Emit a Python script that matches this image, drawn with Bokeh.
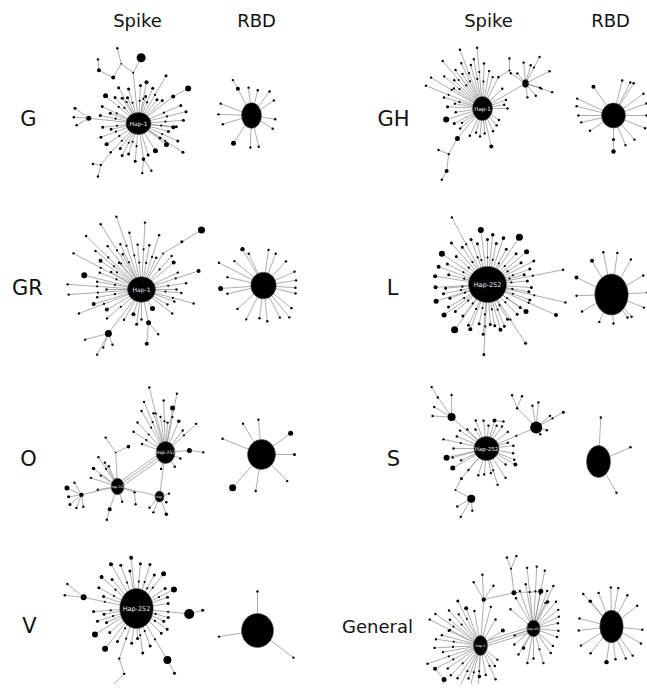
import math
from bokeh.plotting import figure
from bokeh.models import Range1d, ColumnDataSource
from bokeh.embed import file_html
from bokeh.resources import INLINE
from bokeh.core.properties import value

# ---------------- texts ----------------
COLUMN_TITLES = ["Spike", "RBD", "Spike", "RBD"]
COLUMN_X = [137, 256, 488, 610]
COLUMN_Y = [20, 20, 20, 20]
ROW_LABELS = ["G", "GH", "GR", "L", "O", "S", "V", "General"]
ROW_LABEL_X = [28, 393, 27, 392, 28, 393, 29, 377]
ROW_LABEL_Y = [118, 118, 287, 287, 458, 458, 625, 626]
ROW_LABEL_SIZE = ["21px", "21px", "21px", "21px", "21px", "21px", "21px", "18px"]

# ---------------- networks ----------------
# hubs: (x, y, rx, ry, label, label size)
# nodes: (parent, angle deg, length, dot radius, dot along edge); parent -1/-2/-3 = hub 1/2/3
G_SPIKE_HUBS = [(138, 123, 12.5, 11, "Hap-1", 6)]
G_SPIKE_LINKS = []
G_SPIKE_NODES = [
    (-1, 4, 45, 1.5, 1), (-1, -6, 35, 2, 0), (-1, 14, 49, 1.5, 1), (-1, 23, 46, 1.5, 1),
    (-1, 44, 33, 1.5, 0), (-1, 38, 44, 2, 0), (5, 28, 17, 3, 0), (-1, 60, 55, 1.5, 1),
    (-1, 68, 38, 1.5, 1), (-1, 79, 42, 2, 1), (-1, 87, 38, 1.5, 1), (-1, 96, 51, 1, 0),
    (11, 62, 17, 4.5, 0), (11, 143, 15, 0.8, 0), (13, 104, 16, 1.2, 0), (13, 240, 16, 2, 0),
    (15, 153, 16, 2, 0), (16, 95, 11, 1.2, 0), (-1, 106, 36, 1.5, 1), (-1, 119, 41, 1.5, 1),
    (-1, 123, 30, 1.5, 0), (-1, 140, 43, 2.5, 1), (-1, 155, 40, 1.5, 1), (-1, 160, 30, 1.5, 0),
    (-1, 168, 39, 1.5, 1), (-1, 174, 50, 2.5, 0), (25, 144, 17, 1.5, 0), (25, 176, 15, 1.2, 0),
    (25, 210, 14, 1.2, 0), (-1, 186, 36, 1.5, 1), (-1, 200, 40, 1.5, 1), (-1, 213, 38, 2, 1),
    (-1, 226, 40, 1.2, 1), (32, 232, 16, 1.2, 0), (33, 173, 8, 1.2, 0), (33, 256, 12, 1.2, 0),
    (-1, 234, 31, 1.5, 0), (-1, 252, 32, 1.5, 1), (-1, 265, 38, 1.5, 1), (-1, 278, 36, 1.8, 0),
    (39, 265, 14, 1.2, 0), (39, 304, 14, 1.2, 0), (-1, 287, 33, 1.5, 0), (-1, 302, 32, 2.5, 0),
    (-1, 323, 35, 2.5, 0), (-1, 326, 26, 1.5, 0), (-1, 327, 53, 1.5, 1), (-1, 336, 43, 1.5, 1),
    (-1, 345, 31, 1.5, 0), (-1, 132, 35, 1.5, 1), (-1, 113, 28, 1.5, 0), (-1, 52, 30, 1.5, 0),
    (-1, 243, 36, 1.5, 1), (-1, 192, 28, 1.5, 0), (-1, 355, 38, 1.5, 1), (-1, 75, 28, 1.5, 0),
]

G_RBD_HUBS = [(251, 115, 10, 12.8, "", 6)]
G_RBD_NODES = [
    (-1, 117, 30, 2, 0), (0, 120, 10, 1.2, 0), (-1, 96, 28, 1.2, 0), (-1, 76, 26, 1.2, 0),
    (-1, 53, 30, 1.2, 0), (-1, 34, 27, 1.2, 0), (-1, -9, 24, 1.2, 0), (-1, -32, 25, 1.2, 0),
    (-1, -77, 32, 1.2, 0), (-1, -92, 32, 1.2, 0), (-1, -123, 33, 2.5, 0), (-1, -163, 30, 1.2, 0),
    (-1, 178, 33, 1.2, 0), (-1, 159, 33, 1.2, 0),
]

GH_SPIKE_HUBS = [(482, 108, 10, 12, "Hap-1", 5.5), (525, 83, 3.2, 4, "", 4)]
GH_SPIKE_LINKS = [(0, 1, 1)]
GH_SPIKE_NODES = [
    (-1, 111, 63, 1.2, 1), (-1, 95, 61, 1.2, 1), (-1, 130, 62, 1.2, 1), (-1, 149, 60, 1.2, 1),
    (-1, 158, 61, 1.2, 1), (-1, 100, 50, 1.2, 1), (-1, 105, 45, 1.2, 0), (-1, 115, 50, 1.2, 1),
    (-1, 120, 40, 1.2, 0), (-1, 125, 47, 1.2, 1), (-1, 135, 40, 1.2, 0), (-1, 140, 50, 1.2, 1),
    (-1, 145, 35, 1.2, 0), (-1, 88, 45, 1.2, 1), (-1, 80, 38, 1.2, 0), (-1, 72, 33, 1.2, 0),
    (-1, 63, 35, 1.2, 0), (16, 32, 13, 1, 0), (17, 90, 12, 1.2, 0), (-1, 164, 40, 1.2, 1),
    (-1, 177, 35, 1.5, 0), (-1, 197, 38, 3, 0), (-1, 208, 32, 1.5, 0), (-1, 170, 28, 1.2, 0),
    (-1, 188, 27, 1.2, 0), (-1, 215, 25, 1.2, 0), (-1, 222, 30, 1.2, 0), (-1, 230, 39, 2.5, 0),
    (27, 241, 18, 1.2, 0), (28, 263, 17, 2, 0), (29, 241, 10, 1.2, 0), (28, 158, 11, 1.2, 0),
    (-1, 245, 30, 1.2, 0), (-1, 255, 25, 1.2, 0), (-1, 265, 28, 1.2, 0), (-1, 275, 25, 1.2, 0),
    (-1, 283, 39, 2, 0), (-1, 295, 25, 1.2, 0), (-1, 310, 22, 1.2, 0), (-1, 325, 20, 1.2, 0),
    (-1, 0, 25, 1.2, 0), (-1, 10, 22, 1.2, 0), (-1, 20, 25, 1.2, 0), (-1, 45, 28, 1.2, 0),
    (-2, 95, 21, 1.2, 0), (-2, 62, 30, 1.2, 1), (-2, 27, 27, 1.2, 0), (-2, -18, 28, 1.2, 1),
    (-2, -16, 15, 1.2, 0), (-2, -82, 14, 1.2, 0), (-2, 129, 13, 1.2, 0), (-2, 74, 19, 1.2, 0),
    (-2, -50, 16, 1.2, 0), (-2, 145, 18, 1.2, 0),
]

GH_RBD_HUBS = [(613, 115, 12, 12.5, "", 6)]
GH_RBD_NODES = [
    (-1, 125, 35, 2, 0), (-1, 155, 40, 1.2, 0), (-1, 166, 38, 1.2, 0), (-1, 180, 35, 1.2, 0),
    (-1, 192, 33, 1.2, 0), (-1, 213, 28, 1.2, 0), (-1, 270, 24, 1.5, 0), (6, 270, 12, 2.2, 0),
    (-1, -68, 32, 1.2, 0), (-1, -49, 32, 1.2, 0), (-1, -22, 34, 1.2, 0), (-1, 0, 33, 1.2, 0),
    (-1, 76, 36, 1.2, 0), (-1, 63, 37, 1.2, 0), (-1, 58, 38, 1.2, 0), (-1, 36, 37, 1.2, 0),
    (-1, 20, 35, 1.2, 0),
]

GR_SPIKE_HUBS = [(141, 289, 14, 12.7, "Hap-1", 6)]
GR_SPIKE_NODES = [
    (-1, 59, 42, 1, 0), (0, 32, 22, 1.5, 0), (1, 31, 23, 3.5, 0), (-1, 109, 77, 1.2, 1),
    (-1, 87, 67, 1.2, 1), (-1, 72, 57, 1.2, 1), (-1, 102, 58, 1.2, 1), (-1, 122, 77, 1.2, 1),
    (-1, 136, 77, 1.2, 1), (-1, 152, 77, 1.2, 1), (-1, 166, 59, 3, 0), (-1, 176, 74, 1.2, 1),
    (-1, 184, 73, 1.2, 1), (-1, 201, 67, 1.2, 1), (-1, 197, 50, 2, 0), (-1, 233, 55, 3.5, 0),
    (15, 195, 24, 1.2, 0), (15, 242, 24, 1.2, 0), (15, 250, 15, 1.2, 0), (15, 290, 12, 1.2, 0),
    (-1, 252, 26, 2, 0), (-1, 282, 34, 2.5, 0), (21, 310, 15, 1.2, 0), (21, 265, 21, 2, 0),
    (-1, 300, 22, 2.5, 0), (-1, -38, 39, 1.2, 0), (-1, -15, 54, 1.2, 1), (-1, 18, 60, 2, 1),
    (-1, 40, 42, 2, 0), (-1, 0, 35, 1.2, 0), (-1, 8, 45, 1.2, 1), (-1, 25, 40, 1.2, 0),
    (-1, 48, 45, 1.2, 1), (-1, 65, 35, 1.2, 0), (-1, 80, 45, 1.2, 1), (-1, 95, 45, 1.2, 1),
    (-1, 115, 50, 1.2, 1), (-1, 128, 55, 1.2, 1), (-1, 145, 50, 2, 1), (-1, 158, 45, 1.2, 1),
    (-1, 170, 45, 1.2, 1), (-1, 190, 45, 1.2, 1), (-1, 210, 40, 2, 0), (-1, 220, 45, 1.2, 1),
    (-1, 240, 35, 1.2, 0), (-1, 262, 35, 1.5, 0), (-1, 270, 30, 1.2, 0), (-1, -20, 35, 1.2, 0),
    (-1, -30, 30, 1.2, 0), (-1, -5, 40, 1.2, 1), (-1, 118, 40, 1.2, 0), (-1, 140, 60, 1.2, 1),
    (-1, 130, 35, 1.2, 0), (-1, 150, 35, 1.2, 0), (-1, 180, 35, 1.2, 0),
]

GR_RBD_HUBS = [(263, 285, 12.7, 13.3, "", 6)]
GR_RBD_NODES = [
    (-1, 120, 42, 2.2, 0), (-1, 115, 35, 1.2, 0), (-1, 153, 50, 1.2, 0), (-1, 167, 37, 1.2, 0),
    (-1, 184, 43, 2.5, 0), (-1, 193, 37, 1.2, 0), (-1, 222, 35, 1.2, 0), (-1, 243, 38, 1.2, 0),
    (-1, 263, 33, 1.2, 0), (-1, 276, 36, 1.2, 0), (-1, 297, 36, 1.2, 0), (-1, 309, 41, 1.2, 0),
    (-1, 321, 36, 1.2, 0), (-1, 346, 33, 1.2, 0), (-1, 356, 32, 1.2, 0), (-1, 9, 33, 1.2, 0),
    (-1, 24, 34, 1.2, 0), (-1, 47, 33, 1.2, 0), (-1, 69, 34, 1.2, 0), (-1, 82, 36, 1.2, 0),
    (-1, 140, 38, 1.2, 0),
]

L_SPIKE_HUBS = [(487, 284, 19, 18, "Hap-252", 6.5)]
L_SPIKE_NODES = [
    (-1, 118, 76, 1.2, 1), (-1, 97, 55, 3, 0), (-1, 84, 50, 1.8, 0), (-1, 71, 49, 1.8, 0),
    (-1, 56, 57, 3.5, 0), (-1, 40, 51, 2.5, 0), (-1, 27, 52, 1.5, 0), (-1, 11, 77, 1.2, 1),
    (-1, -4, 44, 1.5, 0), (-1, -13, 80, 1.2, 1), (-1, -24, 75, 2, 1), (-1, -35, 47, 2.5, 0),
    (-1, -57, 70, 1.5, 1), (-1, -74, 47, 2, 0), (-1, -86, 40, 1.5, 0), (-1, -93, 70, 1.5, 1),
    (-1, -111, 48, 2, 0), (-1, -126, 56, 3.5, 0), (-1, -145, 53, 2.5, 0), (-1, -162, 54, 2.5, 0),
    (-1, -177, 52, 2, 0), (-1, 171, 53, 2, 0), (-1, 160, 52, 2, 0), (-1, 146, 55, 3, 0),
    (-1, 131, 55, 1.5, 0), (-1, 5, 40, 1.5, 1), (-1, 15, 38, 1.5, 1), (-1, 20, 45, 1.5, 1),
    (-1, 33, 40, 1.5, 1), (-1, 47, 42, 1.5, 1), (-1, 62, 40, 1.5, 1), (-1, 78, 42, 1.5, 1),
    (-1, 90, 45, 1.5, 1), (-1, 104, 42, 1.5, 1), (-1, 110, 48, 1.5, 1), (-1, 124, 45, 1.5, 1),
    (-1, 138, 42, 1.5, 1), (-1, 153, 45, 1.5, 1), (-1, 166, 40, 1.5, 1), (-1, 185, 42, 1.5, 1),
    (-1, 192, 45, 1.5, 1), (-1, 200, 40, 1.5, 1), (-1, 210, 45, 1.5, 1), (-1, 220, 42, 1.5, 1),
    (-1, 232, 40, 1.5, 1), (-1, 245, 45, 1.5, 1), (-1, 258, 40, 1.5, 1), (-1, 265, 50, 1.5, 1),
    (-1, 280, 42, 1.5, 1), (-1, 292, 45, 1.5, 1), (-1, 300, 40, 1.5, 1), (-1, 315, 42, 1.5, 1),
    (-1, 325, 40, 1.5, 1), (-1, 340, 45, 1.5, 1), (-1, 350, 42, 1.5, 1),
]

L_RBD_HUBS = [(611, 294, 16.7, 20.5, "", 6)]
L_RBD_NODES = [
    (-1, 154, 39, 2, 0), (-1, 120, 39, 2, 0), (-1, 101, 43, 1.2, 0), (-1, 82, 42, 1.2, 0),
    (-1, 61, 40, 1.2, 0), (-1, 31, 37, 1.2, 0), (-1, 3, 36, 1.2, 0), (-1, -22, 35, 1.2, 0),
    (-1, -48, 30, 1.2, 0), (-1, -55, 28, 1.2, 0), (-1, -86, 29, 1.2, 0), (-1, -114, 30, 1.2, 0),
    (-1, -150, 34, 1.2, 0), (-1, -178, 35, 1.2, 0),
]

O_SPIKE_HUBS = [(165, 452, 9.5, 11, "Hap-252", 4.5), (117, 486, 6.5, 8.3, "Hap-202", 3.5),
                (159, 496, 4.5, 5.5, "Hap-", 3)]
O_SPIKE_LINKS = [(1, 0, 3), (1, 2, 1), (0, 2, 1)]
O_SPIKE_NODES = [
    (-1, 104, 67, 1.2, 1), (-1, 79, 60, 1.2, 1), (-1, 81, 45, 2.5, 0), (-1, 120, 48, 1.2, 1),
    (-1, 133, 41, 1.2, 1), (-1, 147, 38, 1.2, 1), (-1, 107, 41, 1.2, 0), (-1, 98, 36, 1.2, 0),
    (-1, 86, 30, 1.2, 0), (-1, 67, 34, 1.8, 0), (-1, 52, 28, 1.2, 0), (-1, 43, 42, 1.2, 1),
    (-1, 5, 24, 2.5, 0), (12, -8, 14, 1.2, 0), (-1, -22, 16, 1.2, 0), (-1, -57, 17, 1.2, 0),
    (-1, -105, 17, 1.2, 0), (-1, 160, 25, 1.2, 0), (-1, 92, 52, 1.2, 1), (-1, 113, 55, 1.2, 1),
    (-2, 123, 35, 1.2, 1), (-2, 118, 27, 1.2, 0), (-2, 113, 22, 1.2, 0), (-2, 143, 30, 1.8, 0),
    (-2, 162, 28, 1.2, 0), (-2, 189, 20, 1.2, 0), (-2, 251, 24, 2, 0), (26, 255, 11, 1.2, 0),
    (-2, 287, 16, 1.2, 0), (-2, 147, 20, 1.2, 0), (-2, 193, 37, 2.2, 0), (30, 155, 16, 2.5, 0),
    (30, 189, 13, 1.5, 0), (30, 220, 15, 1.5, 0), (30, 120, 14, 1.2, 0), (30, 249, 14, 1.2, 0),
    (30, 279, 12, 1.2, 0), (-2, 93, 34, 0.8, 0), (37, 124, 18, 1.2, 0), (37, 25, 14, 1.8, 0),
    (-2, -19, 18, 1.2, 0), (40, -85, 12, 1.2, 0),
    (-3, 228, 15, 1.2, 0), (-3, 249, 17, 1.2, 0), (-3, 291, 19, 1.8, 0), (-3, 17, 10, 1.2, 0),
    (-3, -40, 9, 1.2, 0),
]

O_RBD_HUBS = [(261, 454, 14, 15, "", 6)]
O_RBD_NODES = [
    (-1, 158, 42, 1.2, 0), (-1, 121, 36, 1.2, 0), (-1, 95, 35, 1.2, 0), (-1, 36, 36, 2.5, 0),
    (-1, 0, 33, 1.5, 0), (-1, -46, 37, 1.2, 0), (-1, -99, 37, 1.2, 0), (-1, -131, 44, 3.5, 0),
]

S_SPIKE_HUBS = [(486, 448, 12.5, 12, "Hap-252", 5.5)]
S_SPIKE_NODES = [
    (-1, 138, 47, 4, 0), (0, 125, 24, 1.2, 0), (1, 121, 12, 1.2, 0), (0, 90, 22, 1.2, 0),
    (0, 150, 20, 1.2, 0), (0, 177, 19, 1.2, 0), (-1, 23, 54, 6, 1), (6, 85, 25, 1.2, 0),
    (6, 100, 22, 1.2, 0), (6, 40, 18, 1.2, 0), (6, 29, 31, 1.5, 1), (6, -15, 11, 1.2, 0),
    (6, -59, 8, 1.2, 0), (6, 135, 27, 1.2, 0), (13, 111, 14, 1.2, 0), (13, 68, 13, 1.2, 0),
    (-1, 74, 29, 2, 0), (16, -6, 9, 1.2, 0), (-1, 193, 41, 3, 0), (-1, 210, 39, 2.5, 0),
    (-1, -29, 33, 2, 0), (-1, 230, 39, 1.5, 0), (21, 243, 13, 1, 0), (22, -29, 18, 4, 0),
    (23, 209, 16, 1.2, 0), (23, 240, 21, 1.2, 0), (23, -85, 12, 1.2, 0),
    (-1, 168, 44, 1.2, 1), (-1, 158, 32, 1.2, 0), (-1, 146, 32, 1.2, 0), (-1, 135, 27, 1.2, 0),
    (-1, 111, 30, 1.2, 0), (-1, 96, 28, 1.2, 0), (-1, 85, 23, 1.2, 0), (-1, 66, 25, 1.2, 0),
    (-1, 55, 27, 1.2, 0), (-1, 38, 27, 1.2, 0), (-1, 6, 27, 1.2, 0), (-1, -10, 27, 1.2, 0),
    (-1, -22, 30, 1.2, 0), (-1, -57, 35, 1.2, 0), (-1, -73, 38, 1.2, 1), (-1, -80, 25, 1.2, 0),
    (-1, -95, 26, 1.2, 0), (-1, -107, 28, 1.2, 0), (-1, -130, 28, 1.2, 0), (-1, -155, 28, 1.2, 0),
    (-1, 180, 33, 1.2, 0), (-1, -165, 35, 1.2, 0), (-1, 15, 22, 1.2, 0), (-1, -40, 25, 1.2, 0),
    (-1, 120, 22, 1.2, 0),
]

S_RBD_HUBS = [(598, 461, 12, 16, "", 6)]
S_RBD_NODES = [(-1, 87, 44, 1.2, 0), (-1, 24, 35, 1.2, 0), (-1, -60, 36, 1.2, 0)]

V_SPIKE_HUBS = [(136, 608, 16.7, 20, "Hap-252", 6.5)]
V_SPIKE_NODES = [
    (-1, 96, 51, 2, 0), (-1, 85, 45, 1.5, 1), (-1, 73, 46, 1.5, 1), (-1, 110, 46, 1.5, 1),
    (-1, 120, 51, 2, 0), (-1, 52, 44, 2.5, 1), (-1, 62, 38, 1.5, 1), (-1, 27, 42, 3, 1),
    (-1, 138, 47, 2, 1), (-1, 151, 43, 1.5, 1), (-1, 168, 54, 3, 1), (10, 141, 21, 1.2, 0),
    (10, 174, 19, 1.2, 0), (-1, 184, 43, 1.5, 1), (-1, 198, 41, 1.5, 1), (-1, 212, 49, 3, 0),
    (-1, 232, 51, 3, 0), (-1, 251, 53, 1.2, 1), (17, -72, 16, 1.2, 0), (18, 225, 20, 2, 0),
    (-1, -82, 45, 1.5, 1), (-1, -70, 40, 1.5, 1), (-1, -59, 60, 4, 1), (22, -62, 15, 1.5, 0),
    (-1, -34, 37, 1.5, 1), (-1, -16, 33, 1.5, 1), (-1, -6, 53, 5, 1), (26, 16, 14, 1.5, 0),
    (-1, 9, 32, 1.5, 0), (-1, 20, 33, 1.5, 0), (-1, 35, 35, 1.5, 0), (-1, 100, 38, 1.5, 0),
    (-1, 130, 38, 1.5, 0), (-1, 160, 35, 1.5, 0), (-1, 190, 33, 1.5, 0), (-1, 205, 33, 1.5, 0),
    (-1, 222, 36, 1.5, 0), (-1, 240, 38, 1.5, 1), (-1, 262, 35, 1.5, 0), (-1, -88, 30, 1.5, 0),
    (-1, -45, 35, 1.5, 0), (-1, -25, 30, 1.5, 0),
]

V_RBD_HUBS = [(257, 630, 16, 17, "", 6)]
V_RBD_NODES = [(-1, 90, 39, 1.2, 0), (-1, 189, 39, 1.2, 0), (-1, -37, 45, 1.2, 0)]

GEN_SPIKE_HUBS = [(480, 645, 7, 10, "Hap-1", 3.5), (533, 628, 6.7, 8.3, "Hap-252", 3)]
GEN_SPIKE_LINKS = [(0, 1, 3)]
GEN_SPIKE_NODES = [
    (-1, 153, 57, 1.2, 1), (-1, 132, 47, 1.2, 1), (-1, 117, 50, 1.5, 1), (-1, 111, 40, 2, 0),
    (-1, 86, 46, 2.2, 0), (4, 120, 20, 1.2, 0), (4, 93, 25, 1.2, 0), (4, 55, 17, 1.2, 0),
    (4, 13, 31, 2.5, 0), (8, 97, 24, 1, 0), (9, 110, 12, 1.2, 0), (9, 67, 14, 1.2, 0),
    (8, 2, 27, 0, 0), (-1, 155, 35, 1.2, 0), (-1, 183, 46, 1.2, 1), (-1, 199, 56, 1.2, 1),
    (-1, 207, 51, 2, 1), (16, -50, 14, 2.5, 0), (17, 260, 11, 1.2, 0), (-1, 243, 48, 1.2, 1),
    (-1, 256, 46, 1.2, 1), (-1, 267, 43, 1.2, 1), (-1, 268, 31, 1.8, 0), (-1, 294, 37, 1.2, 1),
    (-1, 34, 27, 2, 0), (-1, 165, 40, 1.2, 0), (-1, 172, 45, 1.2, 1), (-1, 140, 40, 1.2, 0),
    (-1, 125, 38, 1.2, 0), (-1, 100, 35, 1.2, 0), (-1, 190, 38, 1.2, 0), (-1, 215, 40, 1.2, 0),
    (-1, 225, 42, 1.2, 1), (-1, 235, 40, 1.2, 0), (-1, 250, 35, 1.2, 0), (-1, 280, 30, 1.2, 0),
    (-1, 305, 25, 1.2, 0), (-1, 320, 22, 1.2, 0), (-1, 60, 30, 1.2, 0), (-1, 75, 40, 1.2, 0),
    (-1, 145, 55, 1.2, 1),
    (-2, 96, 61, 1.2, 1), (-2, 87, 62, 1.2, 1), (-2, 79, 59, 1.2, 1), (-2, 65, 47, 1.2, 1),
    (-2, 37, 31, 1.2, 0), (-2, 12, 25, 1.2, 0), (-2, -5, 25, 1.2, 0), (-2, -42, 26, 1.2, 0),
    (-2, -74, 36, 1.2, 1), (-2, -117, 22, 1.8, 0), (-2, 62, 30, 1.8, 0), (-2, 79, 38, 2.5, 0),
    (-2, 100, 45, 1.2, 0), (-2, 110, 40, 1.2, 0), (-2, 120, 35, 1.2, 0), (-2, 140, 30, 1.2, 0),
    (-2, 70, 40, 1.2, 0), (-2, 50, 35, 1.2, 0), (-2, 25, 28, 1.2, 0), (-2, -20, 25, 1.2, 0),
    (-2, -55, 30, 1.2, 0), (-2, -90, 30, 1.2, 0), (-2, -100, 35, 1.2, 0), (-2, 200, 20, 1.2, 0),
    (-2, 220, 25, 1.2, 0), (-2, 240, 30, 1.2, 0),
]

GEN_RBD_HUBS = [(611, 626, 11.7, 16.3, "", 6)]
GEN_RBD_NODES = [
    (-1, 131, 43, 1.2, 0), (-1, 130, 33, 1.8, 0), (-1, 111, 36, 1.2, 0), (-1, 91, 39, 1.2, 0),
    (-1, 80, 39, 1.2, 0), (-1, 63, 35, 1.2, 0), (-1, 39, 33, 1.2, 0), (-1, -6, 31, 1.2, 0),
    (-1, -30, 34, 1.2, 0), (-1, -54, 36, 1.2, 0), (-1, -66, 35, 1.2, 0), (-1, -83, 33, 1.2, 0),
    (-1, -98, 36, 2.2, 0), (-1, -128, 34, 1.2, 0), (-1, -148, 36, 1.2, 0), (-1, -173, 33, 1.2, 0),
    (-1, 166, 33, 1.2, 0),
]

NETWORKS = [
    (G_SPIKE_HUBS, G_SPIKE_LINKS, G_SPIKE_NODES), (G_RBD_HUBS, [], G_RBD_NODES),
    (GH_SPIKE_HUBS, GH_SPIKE_LINKS, GH_SPIKE_NODES), (GH_RBD_HUBS, [], GH_RBD_NODES),
    (GR_SPIKE_HUBS, [], GR_SPIKE_NODES), (GR_RBD_HUBS, [], GR_RBD_NODES),
    (L_SPIKE_HUBS, [], L_SPIKE_NODES), (L_RBD_HUBS, [], L_RBD_NODES),
    (O_SPIKE_HUBS, O_SPIKE_LINKS, O_SPIKE_NODES), (O_RBD_HUBS, [], O_RBD_NODES),
    (S_SPIKE_HUBS, [], S_SPIKE_NODES), (S_RBD_HUBS, [], S_RBD_NODES),
    (V_SPIKE_HUBS, [], V_SPIKE_NODES), (V_RBD_HUBS, [], V_RBD_NODES),
    (GEN_SPIKE_HUBS, GEN_SPIKE_LINKS, GEN_SPIKE_NODES), (GEN_RBD_HUBS, [], GEN_RBD_NODES),
]

# ---------------- build geometry ----------------
edge_xs, edge_ys = [], []
dot_x, dot_y, dot_r = [], [], []
hub_x, hub_y, hub_w, hub_h, hub_lab, hub_fs = [], [], [], [], [], []

for hubs, links, nodes in NETWORKS:
    pos = []
    for (par, ang, ln, r, mid) in nodes:
        if par < 0:
            px, py = hubs[-par - 1][0], hubs[-par - 1][1]
        else:
            px, py = pos[par]
        a = math.radians(ang)
        x = px + ln * math.cos(a)
        y = py - ln * math.sin(a)
        pos.append((x, y))
        edge_xs.append([px, x])
        edge_ys.append([py, y])
        if r > 0:
            dot_x.append(x); dot_y.append(y); dot_r.append(r)
        if mid:
            dot_x.append(px + 0.6 * (x - px)); dot_y.append(py + 0.6 * (y - py)); dot_r.append(1.1)
    for (a_i, b_i, n) in links:
        ax, ay = hubs[a_i][0], hubs[a_i][1]
        bx, by = hubs[b_i][0], hubs[b_i][1]
        d = math.hypot(bx - ax, by - ay)
        nx, ny = -(by - ay) / d, (bx - ax) / d
        for k in range(n):
            off = (k - (n - 1) / 2) * 2.5
            edge_xs.append([ax + nx * off, bx + nx * off])
            edge_ys.append([ay + ny * off, by + ny * off])
    for (x, y, rx, ry, lab, fs) in hubs:
        hub_x.append(x); hub_y.append(y); hub_w.append(2 * rx); hub_h.append(2 * ry)
        hub_lab.append(lab); hub_fs.append("%spx" % fs)

# ---------------- figure ----------------
# Bokeh's page has no body margin, so the plot starts at the window's top-left corner.
W, H = 647, 684
p = figure(width=W, height=H, x_range=Range1d(0, W), y_range=Range1d(H, 0),
           output_backend="svg", toolbar_location=None, min_border=0,
           x_axis_location=None, y_axis_location=None)
p.grid.visible = False
p.outline_line_color = None
p.background_fill_color = "white"
p.border_fill_color = "white"

p.multi_line(xs=edge_xs, ys=edge_ys, line_color="#8a8a8a", line_width=0.7)
p.circle(x=dot_x, y=dot_y, radius=dot_r, fill_color="black", line_color=None)
p.ellipse(x=hub_x, y=hub_y, width=hub_w, height=hub_h, fill_color="black",
          line_color="#555555", line_width=0.6)

hub_src = ColumnDataSource(dict(x=hub_x, y=hub_y, t=hub_lab, fs=hub_fs))
p.text(x="x", y="y", text="t", source=hub_src, text_color="#eeeeee",
       text_font=value("DejaVu Sans"), text_font_size="fs",
       text_align="center", text_baseline="middle")

p.text(x=COLUMN_X, y=COLUMN_Y, text=COLUMN_TITLES, text_color="#111111",
       text_font=value("DejaVu Sans"), text_font_size="18px",
       text_align="center", text_baseline="middle")

row_src = ColumnDataSource(dict(x=ROW_LABEL_X, y=ROW_LABEL_Y, t=ROW_LABELS, fs=ROW_LABEL_SIZE))
p.text(x="x", y="y", text="t", source=row_src, text_color="#111111",
       text_font=value("DejaVu Sans"), text_font_size="fs",
       text_align="center", text_baseline="middle")

open("out.html", "w").write(file_html(p, INLINE))
